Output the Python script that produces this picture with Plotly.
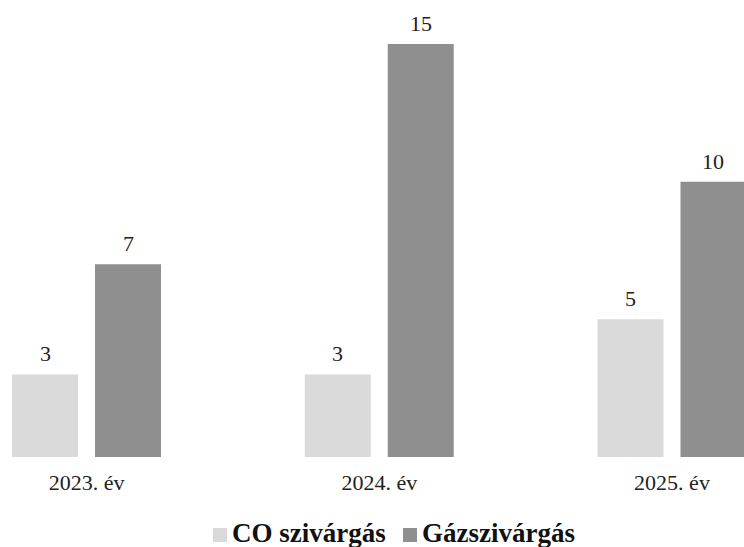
import plotly.graph_objects as go

categories = ["2023. év", "2024. év", "2025. év"]
co_values = [3, 3, 5]
gaz_values = [7, 15, 10]
series_names = ["CO szivárgás", "Gázszivárgás"]

CO_COLOR = "#dadada"
GAZ_COLOR = "#8f8f8f"
SERIF = "Liberation Serif, Times New Roman, serif"

W, H = 744, 547
BOTTOM = 90  # bottom margin; plot area bottom at pixel 457
PLOT_H = H - BOTTOM

def py(p):
    return (PLOT_H - p) / PLOT_H

fig = go.Figure()
fig.add_trace(go.Bar(x=categories, y=co_values, name=series_names[0],
                     marker=dict(color=CO_COLOR, line=dict(width=0))))
fig.add_trace(go.Bar(x=categories, y=gaz_values, name=series_names[1],
                     marker=dict(color=GAZ_COLOR, line=dict(width=0))))

for vals, shift in ((co_values, -41.5), (gaz_values, 41.5)):
    for c, v in zip(categories, vals):
        fig.add_annotation(x=c, y=v, text=str(v), showarrow=False,
                           xshift=shift, yshift=6, yanchor="bottom",
                           font=dict(family=SERIF, size=22, color="#222"))

# manual legend (square + bold label)
legend_items = [(series_names[0], CO_COLOR, 213, 232), (series_names[1], GAZ_COLOR, 403, 422)]
for name, color, sq_x, tx_x in legend_items:
    fig.add_shape(type="rect", xref="paper", yref="paper",
                  x0=sq_x / W, x1=(sq_x + 14) / W, y0=py(542), y1=py(528),
                  fillcolor=color, line=dict(width=0))
    fig.add_annotation(xref="paper", yref="paper", x=(tx_x - 2) / W, y=py(533),
                       xanchor="left", yanchor="middle", showarrow=False, text="<b>" + name + "</b>",
                       font=dict(family=SERIF, size=27, color="#111"))

fig.update_layout(
    width=W, height=H,
    margin=dict(l=0, r=0, t=0, b=BOTTOM),
    paper_bgcolor="white", plot_bgcolor="white",
    barmode="group", bargap=0.433, bargroupgap=0.205,
    xaxis=dict(range=[-0.2955, 2.246], showgrid=False, showline=False, zeroline=False,
               ticks="", ticklabelstandoff=10,
               tickfont=dict(family=SERIF, size=22, color="#222")),
    yaxis=dict(range=[0, 16.6], visible=False),
    showlegend=False,
)

fig.write_html("out.html", config={"displayModeBar": False},
               post_script="document.body.style.margin='0px';")
